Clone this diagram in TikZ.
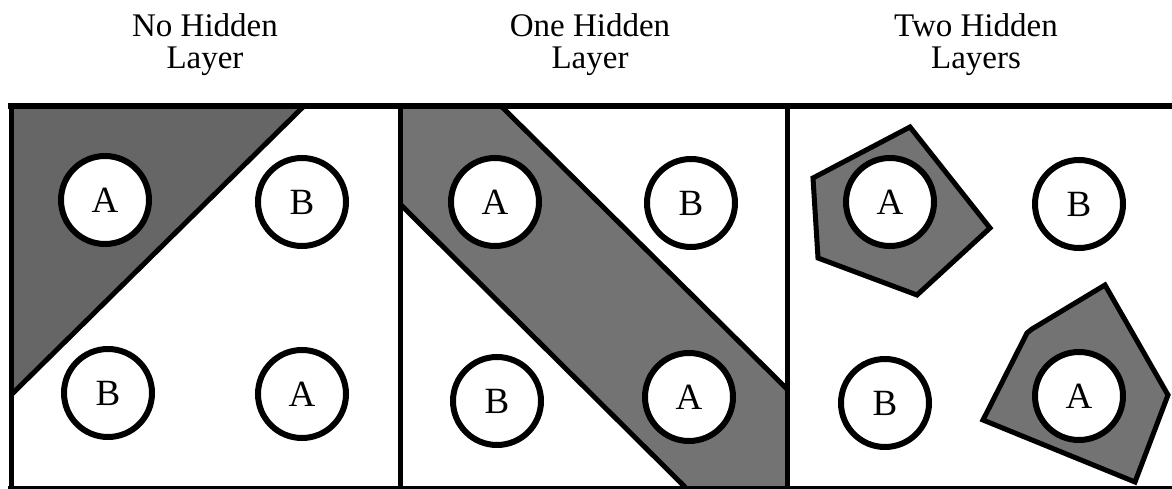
\documentclass[tikz,border=0pt]{standalone}
\usepackage{fontspec}
\setmainfont{Liberation Serif}
\begin{document}
\begin{tikzpicture}[x=1pt,y=-1pt,
  unit/.style={circle,draw=black,fill=white,line width=6pt,minimum size=88pt,inner sep=0pt,font=\fontsize{37}{37}\selectfont},
  title/.style={align=center,font=\fontsize{33}{32}\selectfont},
  shade/.style={fill=black!55},
  edge/.style={line width=5pt,line join=miter}
]
\useasboundingbox (0,0) rectangle (1172,489);
% shaded regions
\fill[shade,fill=black!60] (11,106) -- (302,106) -- (12,392) -- cycle;
\draw[edge] (304,106) -- (12,394);
\fill[shade] (400,106) -- (503,106) -- (787,387) -- (787,487) -- (683,487) -- (400,206) -- cycle;
\draw[edge] (501,106) -- (787,389);
\draw[edge] (400,204) -- (685,487);
\draw[edge,shade] (813,178) -- (910,127) -- (990,228) -- (917,295) -- (818,258) -- cycle;
\draw[edge,shade] (1032,329) -- (1105,285) -- (1168,395) -- (1135,482) -- (983,420) -- (1027,333) -- cycle;
% frame
\draw[line width=6pt] (8,106) -- (1172,106);
\draw[line width=5pt] (11,106) -- (11,487);
\draw[line width=5pt] (400,106) -- (400,487);
\draw[line width=5pt] (787,106) -- (787,487);
\draw[line width=3pt] (8,487) -- (1172,487);
% titles
\node[title] (t1) at (205,45) {No Hidden\\Layer};
\node[title] (t2) at (590,45) {One Hidden\\Layer};
\node[title] (t3) at (976,45) {Two Hidden\\Layers};
% units
\node[unit] (a11) at (105,200) {A};
\node[unit] (b12) at (302,202) {B};
\node[unit] (b13) at (108,393) {B};
\node[unit] (a14) at (302,394) {A};
\node[unit] (a21) at (495,202) {A};
\node[unit] (b22) at (691,203) {B};
\node[unit] (b23) at (497,401) {B};
\node[unit] (a24) at (689,397) {A};
\node[unit] (a31) at (890,202) {A};
\node[unit] (b32) at (1079,204) {B};
\node[unit] (b33) at (885,403) {B};
\node[unit] (a34) at (1079,396) {A};
\end{tikzpicture}
\end{document}
